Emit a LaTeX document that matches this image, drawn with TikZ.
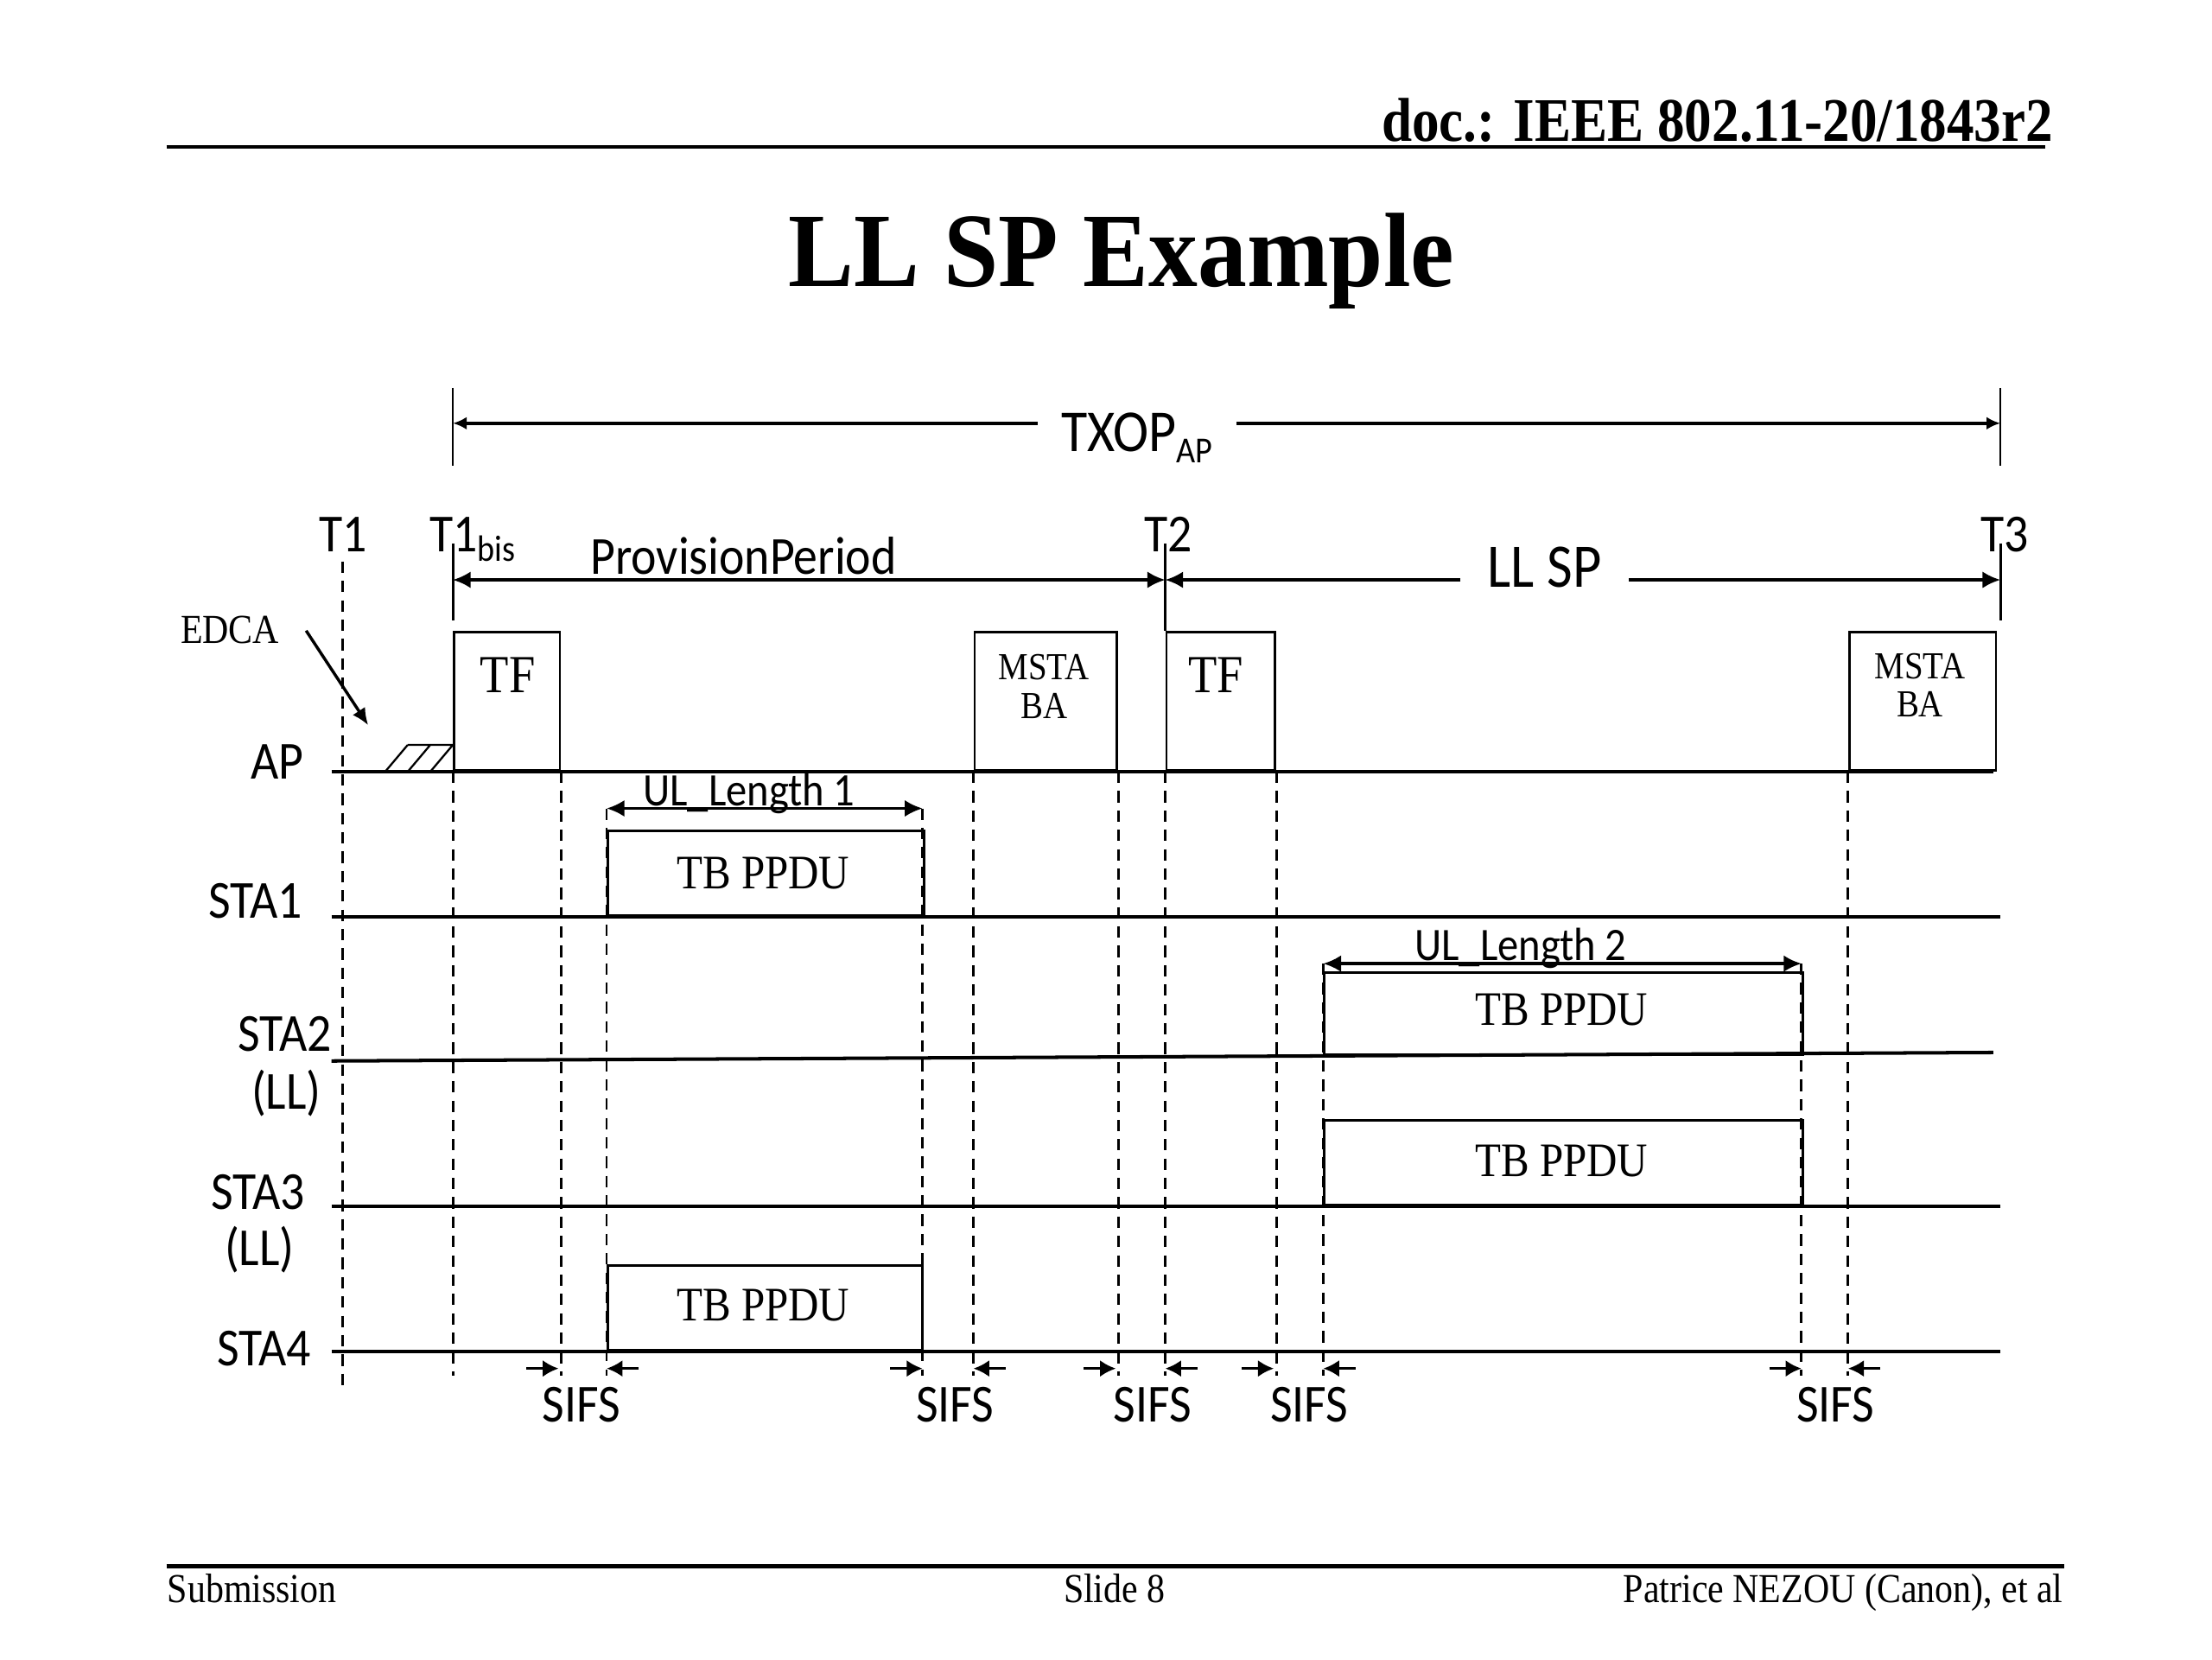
\documentclass[tikz,border=0pt]{standalone}
\usepackage{fontspec}
\usetikzlibrary{arrows.meta}
\setmainfont{Liberation Serif}[FakeStretch=0.88]
\newfontfamily\titlefont{Liberation Serif}[FakeStretch=0.93]
\newfontfamily\calfont{Carlito}[FakeStretch=0.9]
\newcommand\fsz[1]{\fontsize{#1}{#1}\selectfont}
\tikzset{
  lane/.style={line width=0.7pt},
  box/.style={draw, line width=0.5pt, inner sep=0pt, anchor=south west},
  vdash/.style={line width=0.5pt, dash pattern=on 2.3pt off 1.6pt},
  solidv/.style={line width=0.5pt},
  dtip/.tip={Latex[length=3.6pt,width=3.4pt]},
  dimarr/.style={line width=0.6pt, dtip-dtip},
  onearr/.style={line width=0.6pt, -dtip},
  sarr/.style={line width=0.6pt, -{Latex[length=3.2pt,width=3.4pt]}},
  lab/.style={font=\calfont\fsz{10.8}, inner sep=0pt},
  slab/.style={inner sep=0pt},
}
\begin{document}
\begin{tikzpicture}[x=0.1mm,y=-0.1mm]
\fill[white] (0,0) rectangle (1568,1176);
\useasboundingbox (0,0) rectangle (1568,1176);

% header and footer
\node[anchor=base east, inner sep=0pt, font=\bfseries\fsz{12.5}] (doc) at (1456,100) {doc.: IEEE 802.11-20/1843r2};
\coordinate (hl) at (118,104); \coordinate (hr) at (1450,104);
\draw[line width=0.8pt] (hl) -- (hr);
\node[anchor=base, inner sep=0pt, font=\titlefont\bfseries\fsz{21.3}] (title) at (795,203) {LL SP Example};
\coordinate (fl) at (118,1110); \coordinate (fr) at (1463,1110);
\draw[line width=0.8pt] (fl) -- (fr);
\node[anchor=base west, inner sep=0pt, font=\fsz{8.3}] (sub) at (118,1136) {Submission};
\node[anchor=base, inner sep=0pt, font=\fsz{8.3}] (slide) at (790,1136) {Slide 8};
\node[anchor=base east, inner sep=0pt, font=\fsz{8.3}] (auth) at (1463,1136) {Patrice NEZOU (Canon), et al};

% station lanes
\coordinate (apL) at (235,547);  \coordinate (apR) at (1413,547);
\coordinate (s1L) at (235,650);  \coordinate (s1R) at (1418,650);
\coordinate (s2L) at (235,752);  \coordinate (s2R) at (1413,746);
\coordinate (s3L) at (235,855);  \coordinate (s3R) at (1418,855);
\coordinate (s4L) at (235,958);  \coordinate (s4R) at (1418,958);
\draw[lane] (apL) -- (apR);
\draw[lane] (s1L) -- (s1R);
\draw[lane] (s2L) -- (s2R);
\draw[lane] (s3L) -- (s3R);
\draw[lane] (s4L) -- (s4R);

\node[lab, anchor=base east] (lAP) at (216,552) {AP};
\node[lab, anchor=base east] (lS1) at (215,651) {STA1};
\node[lab, anchor=base east] (lS2) at (236,745) {STA2};
\node[lab, anchor=base] (lS2b) at (203,786) {(LL)};
\node[lab, anchor=base east] (lS3) at (217,857) {STA3};
\node[lab, anchor=base] (lS3b) at (184,897) {(LL)};
\node[lab, anchor=base east] (lS4) at (221,968) {STA4};

% time markers
\node[lab, anchor=base] (lT1) at (243,391) {T1};
\node[lab, anchor=base west] (lT1b) at (304,391) {T1\raisebox{-2pt}{\fsz{7.4}bis}};
\node[lab, anchor=base] (lT2) at (828,391) {T2};
\node[lab, anchor=base] (lT3) at (1421,391) {T3};

\coordinate (t1a) at (243,398); \coordinate (t1b) at (243,983);
\draw[vdash] (t1a) -- (t1b);
\coordinate (t1ba) at (321,385); \coordinate (t1bb) at (321,440);
\draw[solidv] (t1ba) -- (t1bb);
\coordinate (t3a) at (1418,385); \coordinate (t3b) at (1418,440);
\draw[solidv] (t3a) -- (t3b);

% TXOP
\coordinate (txl1) at (321,275); \coordinate (txl2) at (321,330);
\coordinate (txr1) at (1418,275); \coordinate (txr2) at (1418,330);
\draw[line width=0.4pt] (txl1) -- (txl2);
\draw[line width=0.4pt] (txr1) -- (txr2);
\coordinate (txL) at (321,300); \coordinate (txR) at (1418,300);
\node[lab, font=\calfont\fsz{12}, anchor=base, inner xsep=1.6mm] (txop) at (806,320) {TXOP\raisebox{-2.3pt}{\fsz{7.4}AP}};
\draw[line width=0.6pt, -{Latex[length=2.8pt,width=2.6pt]}] (txop.west |- txL) -- (txL);
\draw[line width=0.6pt, -{Latex[length=2.8pt,width=2.6pt]}] (txop.east |- txR) -- (txR);

% boxes
\node[box, minimum width=7.5mm, minimum height=9.8mm] (tf1) at (321,547) {};
\node[box, minimum width=10.1mm, minimum height=9.8mm] (ba1) at (690,547) {};
\node[box, minimum width=7.7mm, minimum height=9.8mm] (tf2) at (826,547) {};
\node[box, minimum width=10.4mm, minimum height=9.8mm] (ba2) at (1310,547) {};
\node[box, minimum width=22.4mm, minimum height=6mm] (p1) at (430,650) {};
\node[box, minimum width=33.9mm, minimum height=5.85mm] (p2) at (938,748.5) {};
\node[box, minimum width=33.9mm, minimum height=6mm] (p3) at (938,855) {};
\node[box, minimum width=22.3mm, minimum height=6mm] (p4) at (430,958) {};

\node[slab, font=\fsz{10.8}, anchor=base] (tTF1) at (360,491) {TF};
\node[slab, font=\fsz{10.8}, anchor=base] (tTF2) at (862,491) {TF};
\node[slab, font=\fsz{7.7}, anchor=base] (tMS1) at (740,482) {MSTA};
\node[slab, font=\fsz{7.7}, anchor=base] (tBA1) at (740,509) {BA};
\node[slab, font=\fsz{7.7}, anchor=base] (tMS2) at (1361,481) {MSTA};
\node[slab, font=\fsz{7.7}, anchor=base] (tBA2) at (1361,508) {BA};
\node[slab, font=\fsz{9.7}, anchor=base] (tP1) at (541,630) {TB PPDU};
\node[slab, font=\fsz{9.7}, anchor=base] (tP2) at (1107,727) {TB PPDU};
\node[slab, font=\fsz{9.7}, anchor=base] (tP3) at (1107,834) {TB PPDU};
\node[slab, font=\fsz{9.7}, anchor=base] (tP4) at (541,936) {TB PPDU};

% T2 line into TF box
\coordinate (t2a) at (826,385);
\draw[solidv] (t2a) -- (tf2.north west);

% hatch (EDCA backoff)
\draw[line width=0.4pt] (273,547) -- (289,528) (289,547) -- (305,528) (305,547) -- (321,528) (289,528) -- (321,528);

% EDCA
\node[slab, font=\fsz{8.3}, anchor=base] (edca) at (163,456) {EDCA};
\coordinate (e1) at (217,447); \coordinate (e2) at (261,514);
\draw[line width=0.6pt, -{Latex[length=3.4pt,width=3pt]}] (e1) -- (e2);

% provision period and LL SP
\coordinate (pp1) at (321,411); \coordinate (pp2) at (826,411);
\draw[dimarr] (pp1) -- (pp2);
\node[lab, anchor=base] (lPP) at (527,407) {ProvisionPeriod};
\coordinate (ll1) at (826,411); \coordinate (ll2) at (1418,411);
\node[lab, font=\calfont\fsz{12.5}, anchor=base, inner xsep=1.85mm] (lLL) at (1095,416) {LL SP};
\draw[onearr] (lLL.west |- ll1) -- (ll1);
\draw[onearr] (lLL.east |- ll2) -- (ll2);

% UL lengths
\coordinate (ul1L) at (430,573); \coordinate (ul1R) at (654,573);
\draw[dimarr] (ul1L) -- (ul1R);
\node[lab, font=\calfont\fsz{9.4}, anchor=base] (lUL1) at (531,571) {UL\_Length 1};
\coordinate (ul2L) at (938,683); \coordinate (ul2R) at (1277,683);
\draw[dimarr] (ul2L) -- (ul2R);
\node[lab, font=\calfont\fsz{9.4}, anchor=base] (lUL2) at (1078,681) {UL\_Length 2};

% dashed verticals
\coordinate (yS) at (0,975);
\draw[vdash] (tf1.south west) -- (tf1.south west |- yS);
\draw[vdash] (tf1.south east) -- (tf1.south east |- yS);
\draw[vdash] (ul1L) -- (ul1L |- yS);
\draw[vdash] (ul1R) -- (ul1R |- yS);
\draw[vdash] (ba1.south west) -- (ba1.south west |- yS);
\draw[vdash] (ba1.south east) -- (ba1.south east |- yS);
\draw[vdash] (tf2.south west) -- (tf2.south west |- yS);
\draw[vdash] (tf2.south east) -- (tf2.south east |- yS);
\draw[vdash] (ul2L) -- (ul2L |- yS);
\draw[vdash] (ul2R) -- (ul2R |- yS);
\draw[vdash] (ba2.south west) -- (ba2.south west |- yS);

% SIFS
\foreach \i/\a/\b/\lx in {1/396/430/412, 2/654/690/677, 3/791/826/817, 4/903/938/928, 5/1277/1310/1301} {
  \coordinate (sa\i) at (\a,970);
  \coordinate (sb\i) at (\b,970);
  \draw[sarr] ([xshift=-6.5pt]sa\i) -- (sa\i);
  \draw[sarr] ([xshift=6.5pt]sb\i) -- (sb\i);
  \node[lab, anchor=base] (sifs\i) at (\lx,1008) {SIFS};
}
\end{tikzpicture}
\end{document}
